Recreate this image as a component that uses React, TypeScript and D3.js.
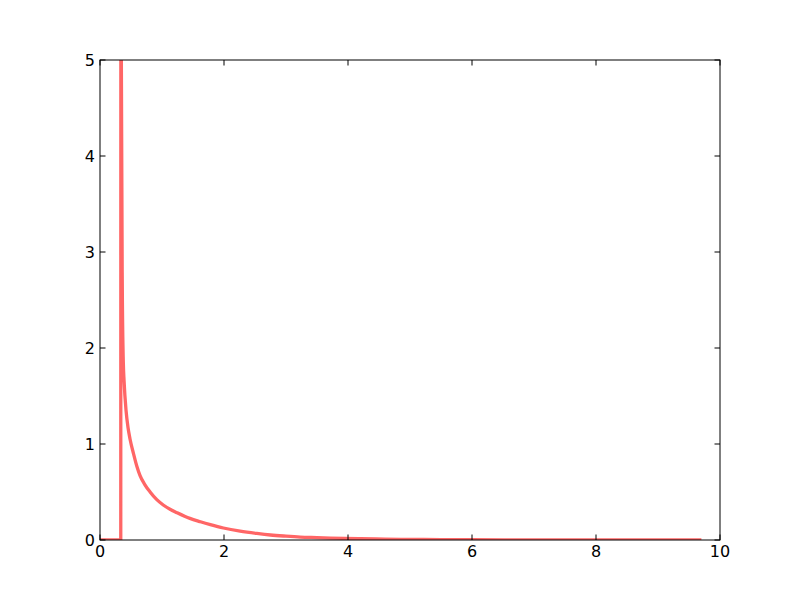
import React, { useEffect, useRef } from 'react';
import * as d3 from 'd3';

// curve values
const xValues = [
  0, 0.335, 0.337, 0.343, 0.36, 0.376, 0.388, 0.42, 0.45, 0.485, 0.54, 0.593, 0.646, 0.72,
  0.808, 0.916, 1.02, 1.13, 1.24, 1.45, 1.62, 1.78, 1.99, 2.26, 2.53, 2.75, 3.0, 3.23, 3.5,
  3.72, 4.2, 4.6, 5, 5.5, 6, 7, 8, 9, 9.7,
];
const yValues = [
  0, 0, 9, 5.2, 2.6, 1.85, 1.66, 1.35, 1.18, 1.05, 0.9, 0.77, 0.67, 0.58,
  0.5, 0.42, 0.365, 0.32, 0.285, 0.225, 0.19, 0.16, 0.125, 0.092, 0.068, 0.052, 0.04, 0.031, 0.025,
  0.02, 0.013, 0.009, 0.006, 0.0045, 0.003, 0.0015, 0.0007, 0.0003, 0.0002,
];
const xTicks = [0, 2, 4, 6, 8, 10];
const yTicks = [0, 1, 2, 3, 4, 5];

const App = () => {
  const chart = useRef<SVGSVGElement>(null);

  useEffect(() => {
    const width = 800,
      height = 600;
    const margin = { top: 60, right: 80, bottom: 60, left: 100 };
    const innerW = width - margin.left - margin.right;
    const innerH = height - margin.top - margin.bottom;
    const tickLen = 5.5;

    const svg = d3.select(chart.current);
    svg.selectAll('*').remove();

    const g = svg.append('g').attr('transform', `translate(${margin.left},${margin.top})`);

    const x = d3.scaleLinear().domain([0, 10]).range([0, innerW]);
    const y = d3.scaleLinear().domain([0, 5]).range([innerH, 0]);

    g.append('clipPath')
      .attr('id', 'plotclip')
      .append('rect')
      .attr('width', innerW)
      .attr('height', innerH);

    const data = xValues.map((v, i) => [v, yValues[i]] as [number, number]);

    const line = d3
      .line<[number, number]>()
      .x((d) => x(d[0]))
      .y((d) => y(d[1]))
      .curve(d3.curveMonotoneX);

    g.append('path')
      .datum(data)
      .attr('clip-path', 'url(#plotclip)')
      .attr('fill', 'none')
      .attr('stroke', '#ff6666')
      .attr('stroke-width', 3.3)
      .attr('stroke-linejoin', 'round')
      .attr('d', line);

    // frame
    g.append('rect')
      .attr('width', innerW)
      .attr('height', innerH)
      .attr('fill', 'none')
      .attr('stroke', '#000')
      .attr('stroke-width', 1);

    const font = "'DejaVu Sans', sans-serif";

    // x ticks (inward, top and bottom)
    xTicks.forEach((t) => {
      const px = x(t);
      g.append('line').attr('x1', px).attr('x2', px).attr('y1', innerH).attr('y2', innerH - tickLen).attr('stroke', '#000');
      g.append('line').attr('x1', px).attr('x2', px).attr('y1', 0).attr('y2', tickLen).attr('stroke', '#000');
      g.append('text')
        .attr('x', px)
        .attr('y', innerH + 4)
        .attr('dy', '0.8em')
        .attr('text-anchor', 'middle')
        .style('font-family', font)
        .style('font-size', '16px')
        .text(t);
    });

    // y ticks (inward, left and right)
    yTicks.forEach((t) => {
      const py = y(t);
      g.append('line').attr('x1', 0).attr('x2', tickLen).attr('y1', py).attr('y2', py).attr('stroke', '#000');
      g.append('line').attr('x1', innerW).attr('x2', innerW - tickLen).attr('y1', py).attr('y2', py).attr('stroke', '#000');
      g.append('text')
        .attr('x', -5)
        .attr('y', py)
        .attr('dy', '0.35em')
        .attr('text-anchor', 'end')
        .style('font-family', font)
        .style('font-size', '16px')
        .text(t);
    });
  }, []);

  return (
    <svg
      ref={chart}
      width={800}
      height={600}
      style={{ position: 'absolute', left: 0, top: 0, background: '#fff' }}
    />
  );
};

export default App;
